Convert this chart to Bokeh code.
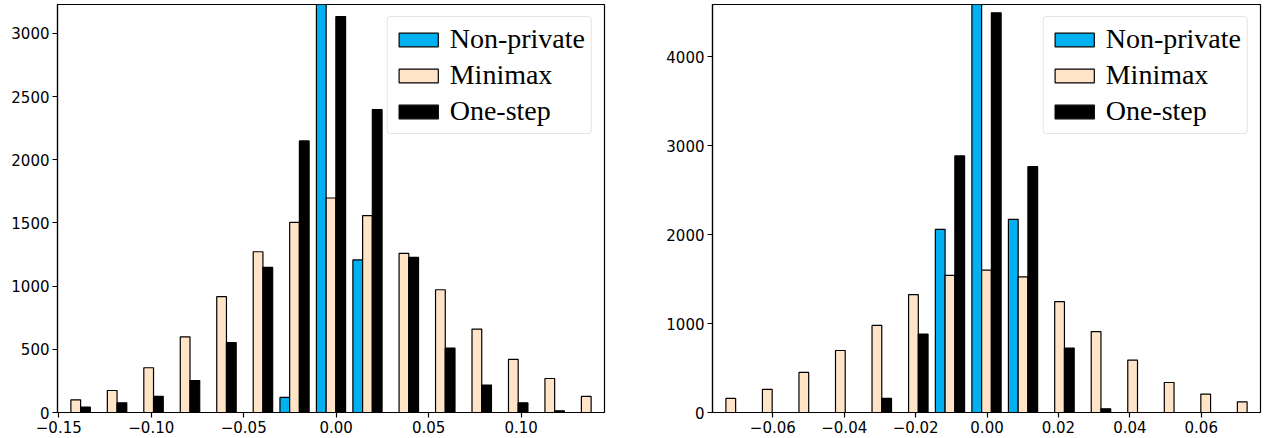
import numpy as np
from bokeh.plotting import figure
from bokeh.models import FixedTicker, Legend, LegendItem, Range1d
from bokeh.layouts import row
from bokeh.embed import file_html
from bokeh.resources import INLINE

# ---------------- data ----------------
series_names = ["Non-private", "Minimax", "One-step"]

# left panel: 15 histogram bins over this range
left_bin_range = (-0.1507, 0.1451)
left_nonprivate = [0, 0, 0, 0, 0, 0, 119, 10600, 1207, 0, 0, 0, 0, 0, 0]
left_minimax = [100, 174, 354, 599, 916, 1272, 1504, 1697, 1557, 1259, 971, 660, 420, 269, 127]
left_onestep = [43, 77, 127, 253, 554, 1148, 2149, 3133, 2397, 1227, 510, 217, 77, 13, 0]
left_ymax = 3228
left_xticks = [-0.15, -0.10, -0.05, 0.00, 0.05, 0.10]
left_xtick_labels = ["\u22120.15", "\u22120.10", "\u22120.05", "0.00", "0.05", "0.10"]
left_yticks = [0, 500, 1000, 1500, 2000, 2500, 3000]

# right panel
right_bin_range = (-0.0769, 0.0766)
right_nonprivate = [0, 0, 0, 0, 0, 0, 2058, 7700, 2171, 0, 0, 0, 0, 0, 0]
right_minimax = [158, 259, 450, 697, 978, 1324, 1541, 1601, 1523, 1245, 908, 589, 337, 207, 120]
right_onestep = [0, 0, 0, 0, 158, 882, 2883, 4492, 2763, 724, 42, 0, 0, 0, 0]
right_ymax = 4585
right_xticks = [-0.06, -0.04, -0.02, 0.00, 0.02, 0.04, 0.06]
right_xtick_labels = ["\u22120.06", "\u22120.04", "\u22120.02", "0.00", "0.02", "0.04", "0.06"]
right_yticks = [0, 1000, 2000, 3000, 4000]

colors = ["#00b0f0", "#ffe4c8", "#000000"]


def make_panel(bin_range, vals, ymax, xticks, xlabels, yticks,
               min_border_left, frame_width, min_border_right):
    lo, hi = bin_range
    n = len(vals[0])
    edges = np.linspace(lo, hi, n + 1)
    centers = (edges[:-1] + edges[1:]) / 2
    bw = edges[1] - edges[0]
    w = 0.8 * bw / 3

    p = figure(frame_width=frame_width, frame_height=408,
               x_range=Range1d(lo, hi), y_range=Range1d(0, ymax),
               output_backend="svg", toolbar_location=None,
               min_border_left=min_border_left, min_border_right=min_border_right,
               min_border_top=4, min_border_bottom=25,
               background_fill_color="white", border_fill_color="white")
    p.outline_line_color = "black"
    p.outline_line_width = 1.2
    p.xgrid.grid_line_color = None
    p.ygrid.grid_line_color = None

    renderers = []
    for k in range(3):
        r = p.vbar(x=centers + (k - 1) * w, top=vals[k], width=w, bottom=0,
                   fill_color=colors[k], line_color="black", line_width=1.2)
        renderers.append(r)

    for ax in (p.xaxis[0], p.yaxis[0]):
        ax.axis_line_color = "black"
        ax.axis_line_width = 1.2
        ax.major_tick_line_color = "black"
        ax.major_tick_line_width = 1.2
        ax.major_tick_out = 5
        ax.major_tick_in = 0
        ax.minor_tick_line_color = None
        ax.major_label_text_font = "DejaVu Sans"
        ax.major_label_text_font_size = "15px"
        ax.major_label_text_color = "black"
        ax.major_label_standoff = 3

    p.xaxis.ticker = FixedTicker(ticks=xticks)
    p.xaxis.major_label_overrides = {t: l for t, l in zip(xticks, xlabels)}
    p.yaxis.ticker = FixedTicker(ticks=yticks)

    legend = Legend(items=[LegendItem(label=series_names[k], renderers=[renderers[k]])
                           for k in range(3)],
                    location="top_right")
    legend.label_text_font = "Liberation Serif"
    legend.label_text_font_size = "28px"
    legend.label_text_color = "black"
    legend.glyph_width = 49
    legend.glyph_height = 17
    legend.label_standoff = 7
    legend.spacing = 4
    legend.padding = 6
    legend.margin = 12
    legend.border_line_color = "#cccccc"
    legend.border_line_width = 1
    legend.background_fill_color = "white"
    legend.background_fill_alpha = 0.8
    try:
        legend.border_radius = 4
    except Exception:
        pass
    p.add_layout(legend)
    return p


p1 = make_panel(left_bin_range, [left_nonprivate, left_minimax, left_onestep], left_ymax,
                left_xticks, left_xtick_labels, left_yticks, 57, 547, 59)
p2 = make_panel(right_bin_range, [right_nonprivate, right_minimax, right_onestep], right_ymax,
                right_xticks, right_xtick_labels, right_yticks, 49, 548, 4)

layout = row(p1, p2)
open("out.html", "w").write(file_html(layout, INLINE))
